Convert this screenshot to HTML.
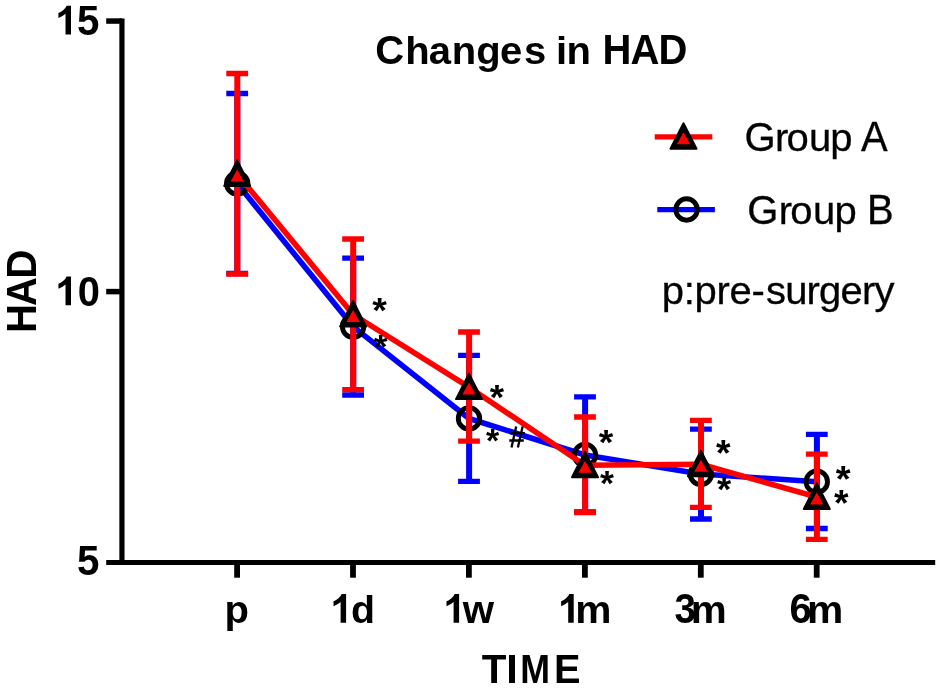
<!DOCTYPE html>
<html><head><meta charset="utf-8"><title>Changes in HAD</title>
<style>
html,body{margin:0;padding:0;background:#fff;}
body{width:945px;height:692px;overflow:hidden;}
svg{display:block;will-change:transform;}
.t{filter:grayscale(1);}
text{font-family:"Liberation Sans",sans-serif;fill:#000;}
</style></head><body>
<svg width="945" height="692" viewBox="0 0 945 692">
<rect width="945" height="692" fill="#fff"/>
<g stroke="#000" stroke-width="5.2" fill="none">
<path d="M121.95 18.5V565.10"/>
<path d="M106.2 562.5H935.2"/>
<path d="M106.2 21.05H121.95" stroke-width="5.5"/>
<path d="M106.2 291.6H121.95" stroke-width="5.5"/>
<path d="M237.1 562.5V577.7" stroke-width="5.8"/>
<path d="M353.0 562.5V577.7" stroke-width="5.8"/>
<path d="M468.9 562.5V577.7" stroke-width="5.8"/>
<path d="M584.9 562.5V577.7" stroke-width="5.8"/>
<path d="M700.8 562.5V577.7" stroke-width="5.8"/>
<path d="M816.7 562.5V577.7" stroke-width="5.8"/>
</g>
<path d="M237.3 93.5V273.5" stroke="#0000ff" stroke-width="6.0" fill="none"/><path d="M226.3 93.5H248.1M226.3 273.5H248.1" stroke="#0000ff" stroke-width="5.3" fill="none"/>
<path d="M353.2 258.2V395.0" stroke="#0000ff" stroke-width="6.0" fill="none"/><path d="M342.2 258.2H364.0M342.2 395.0H364.0" stroke="#0000ff" stroke-width="5.3" fill="none"/>
<path d="M469.1 355.3V481.3" stroke="#0000ff" stroke-width="6.0" fill="none"/><path d="M458.1 355.3H479.9M458.1 481.3H479.9" stroke="#0000ff" stroke-width="5.3" fill="none"/>
<path d="M585.1 396.8V512.0" stroke="#0000ff" stroke-width="6.0" fill="none"/><path d="M574.1 396.8H595.9M574.1 512.0H595.9" stroke="#0000ff" stroke-width="5.3" fill="none"/>
<path d="M701.0 429.1V519.0" stroke="#0000ff" stroke-width="6.0" fill="none"/><path d="M690.0 429.1H711.8M690.0 519.0H711.8" stroke="#0000ff" stroke-width="5.3" fill="none"/>
<path d="M816.9 434.3V528.5" stroke="#0000ff" stroke-width="6.0" fill="none"/><path d="M805.9 434.3H827.7M805.9 528.5H827.7" stroke="#0000ff" stroke-width="5.3" fill="none"/>
<polyline points="237.2,183.5 353.1,326.6 469.0,418.5 585.0,455.0 700.9,474.0 816.8,481.7" stroke="#0000ff" stroke-width="5.6" fill="none" stroke-linejoin="round"/>
<circle cx="237.2" cy="183.5" r="10.7" fill="none" stroke="#000" stroke-width="4.9"/>
<circle cx="353.1" cy="326.6" r="10.7" fill="none" stroke="#000" stroke-width="4.9"/>
<circle cx="469.0" cy="418.5" r="10.7" fill="none" stroke="#000" stroke-width="4.9"/>
<circle cx="585.0" cy="455.0" r="10.7" fill="none" stroke="#000" stroke-width="4.9"/>
<circle cx="700.9" cy="474.0" r="10.7" fill="none" stroke="#000" stroke-width="4.9"/>
<circle cx="816.8" cy="481.7" r="10.7" fill="none" stroke="#000" stroke-width="4.9"/>
<path d="M237.3 73.5V274.0" stroke="#ff0000" stroke-width="6.0" fill="none"/><path d="M226.3 73.5H248.1M226.3 274.0H248.1" stroke="#ff0000" stroke-width="5.3" fill="none"/>
<path d="M353.2 239.0V389.6" stroke="#ff0000" stroke-width="6.0" fill="none"/><path d="M342.2 239.0H364.0M342.2 389.6H364.0" stroke="#ff0000" stroke-width="5.3" fill="none"/>
<path d="M469.1 332.0V441.2" stroke="#ff0000" stroke-width="6.0" fill="none"/><path d="M458.1 332.0H479.9M458.1 441.2H479.9" stroke="#ff0000" stroke-width="5.3" fill="none"/>
<path d="M585.1 417.0V512.5" stroke="#ff0000" stroke-width="6.0" fill="none"/><path d="M574.1 417.0H595.9M574.1 512.5H595.9" stroke="#ff0000" stroke-width="5.3" fill="none"/>
<path d="M701.0 420.3V507.3" stroke="#ff0000" stroke-width="6.0" fill="none"/><path d="M690.0 420.3H711.8M690.0 507.3H711.8" stroke="#ff0000" stroke-width="5.3" fill="none"/>
<path d="M816.9 454.2V539.3" stroke="#ff0000" stroke-width="6.0" fill="none"/><path d="M805.9 454.2H827.7M805.9 539.3H827.7" stroke="#ff0000" stroke-width="5.3" fill="none"/>
<polyline points="237.2,174.0 353.1,314.5 469.0,387.2 585.0,465.3 700.9,464.3 816.8,497.0" stroke="#ff0000" stroke-width="5.6" fill="none" stroke-linejoin="round"/>
<polygon points="237.2,160.4 224.2,185.9 250.2,185.9" fill="#000" stroke="#000" stroke-width="2" stroke-linejoin="round"/><polygon points="237.2,169.4 230.6,181.4 243.8,181.4" fill="#f00"/>
<polygon points="353.1,300.9 340.1,326.4 366.1,326.4" fill="#000" stroke="#000" stroke-width="2" stroke-linejoin="round"/><polygon points="353.1,309.9 346.5,321.9 359.7,321.9" fill="#f00"/>
<polygon points="469.0,373.6 456.0,399.1 482.0,399.1" fill="#000" stroke="#000" stroke-width="2" stroke-linejoin="round"/><polygon points="469.0,382.6 462.4,394.6 475.6,394.6" fill="#f00"/>
<polygon points="585.0,451.7 572.0,477.2 598.0,477.2" fill="#000" stroke="#000" stroke-width="2" stroke-linejoin="round"/><polygon points="585.0,460.7 578.4,472.7 591.6,472.7" fill="#f00"/>
<polygon points="700.9,450.7 687.9,476.2 713.9,476.2" fill="#000" stroke="#000" stroke-width="2" stroke-linejoin="round"/><polygon points="700.9,459.7 694.3,471.7 707.5,471.7" fill="#f00"/>
<polygon points="816.8,483.4 803.8,508.9 829.8,508.9" fill="#000" stroke="#000" stroke-width="2" stroke-linejoin="round"/><polygon points="816.8,492.4 810.2,504.4 823.4,504.4" fill="#f00"/>
<path d="M654.7 136.9H712.3" stroke="#f00" stroke-width="5.3"/>
<polygon points="683.5,123.3 670.5,148.8 696.5,148.8" fill="#000" stroke="#000" stroke-width="2" stroke-linejoin="round"/><polygon points="683.5,132.3 676.9,144.3 690.1,144.3" fill="#f00"/>
<path d="M657.3 209.7H714.9" stroke="#00f" stroke-width="5.3"/>
<circle cx="686.6" cy="209.5" r="10.7" fill="none" stroke="#000" stroke-width="4.9"/>
<g class="t">
<path d="M806 0H525V1059Q371 915 162 846V1101Q272 1137 401 1237.5T578 1472H806Z" transform="translate(55.26,34.50) scale(0.01953,-0.01950)" fill="#000"/>
<text font-weight="bold" font-size="40" transform="translate(77.06,34.50) scale(1.0099,1.0411)">5</text>
<path d="M806 0H525V1059Q371 915 162 846V1101Q272 1137 401 1237.5T578 1472H806Z" transform="translate(55.26,305.20) scale(0.01953,-0.01957)" fill="#000"/>
<text font-weight="bold" font-size="40" transform="translate(77.82,305.50) scale(0.9988,1.0562)">0</text>
<text font-weight="bold" font-size="40" transform="translate(76.96,575.20) scale(1.0099,1.0502)">5</text>
<text font-weight="bold" font-size="40" transform="translate(224.56,622.80) scale(1.0022,0.9900)">p</text>
<path d="M806 0H525V1059Q371 915 162 846V1101Q272 1137 401 1237.5T578 1472H806Z" transform="translate(330.36,622.80) scale(0.01953,-0.01957)" fill="#000"/>
<text font-weight="bold" font-size="40" transform="translate(350.99,622.80) scale(0.9823,0.9900)">d</text>
<path d="M806 0H525V1059Q371 915 162 846V1101Q272 1137 401 1237.5T578 1472H806Z" transform="translate(443.36,622.80) scale(0.01953,-0.01957)" fill="#000"/>
<text font-weight="bold" font-size="40" transform="translate(462.72,622.80) scale(1.0061,0.9850)">w</text>
<path d="M806 0H525V1059Q371 915 162 846V1101Q272 1137 401 1237.5T578 1472H806Z" transform="translate(557.96,622.80) scale(0.01953,-0.01957)" fill="#000"/>
<text font-weight="bold" font-size="40" transform="translate(575.32,622.80) scale(1.0181,0.9850)">m</text>
<text font-weight="bold" font-size="40" transform="translate(674.52,623.10) scale(0.9606,1.0419)">3</text>
<text font-weight="bold" font-size="40" transform="translate(690.83,622.80) scale(1.0115,0.9850)">m</text>
<text font-weight="bold" font-size="40" transform="translate(789.53,623.10) scale(1.0033,1.0419)">6</text>
<text font-weight="bold" font-size="40" transform="translate(806.91,622.80) scale(1.0214,0.9850)">m</text>
<text font-weight="bold" font-size="40" transform="translate(481.65,683.20) scale(1.0104,1.0247)">T</text>
<text font-weight="bold" font-size="40" transform="translate(506.31,683.20) scale(1.0414,1.0247)">I</text>
<text font-weight="bold" font-size="40" transform="translate(520.31,683.20) scale(0.8939,1.0247)">M</text>
<text font-weight="bold" font-size="40" transform="translate(554.04,683.20) scale(0.9937,1.0247)">E</text>
<g transform="translate(35.8,330.3) rotate(-90)">
<text font-weight="bold" font-size="40" transform="translate(-2.67,0.00) scale(0.9993,1.0429)">H</text>
<text font-weight="bold" font-size="40" transform="translate(24.31,0.00) scale(0.9949,1.0429)">A</text>
<text font-weight="bold" font-size="40" transform="translate(51.49,0.00) scale(1.0110,1.0429)">D</text>
</g>
<text font-weight="bold" font-size="40" transform="translate(375.26,63.90) scale(1,1.02)">C</text>
<text font-weight="bold" font-size="40" transform="translate(405.31,63.90) scale(1,0.985)">h</text>
<text font-weight="bold" font-size="40" transform="translate(428.73,63.90) scale(1,0.985)">a</text>
<text font-weight="bold" font-size="40" transform="translate(451.76,63.90) scale(1,0.985)">n</text>
<text font-weight="bold" font-size="40" transform="translate(476.16,63.90) scale(1,0.985)">g</text>
<text font-weight="bold" font-size="40" transform="translate(499.94,63.90) scale(1,0.985)">e</text>
<text font-weight="bold" font-size="40" transform="translate(524.09,63.90) scale(1,0.985)">s</text>
<text font-weight="bold" font-size="40" transform="translate(556.01,63.90) scale(1,0.985)">i</text>
<text font-weight="bold" font-size="40" transform="translate(566.55,63.90) scale(1,0.985)">n</text>
<text font-weight="bold" font-size="40" transform="translate(602.52,63.90) scale(1,1.04)">H</text>
<text font-weight="bold" font-size="40" transform="translate(630.46,63.90) scale(1,1.04)">A</text>
<text font-weight="bold" font-size="40" transform="translate(658.39,63.90) scale(1,1.04)">D</text>
<text stroke="#000" stroke-width="0.3" font-size="40" transform="translate(744.59,150.80) scale(1,1.02)">G</text>
<text stroke="#000" stroke-width="0.3" font-size="40" transform="translate(774.94,150.80) scale(1,0.985)">r</text>
<text stroke="#000" stroke-width="0.3" font-size="40" transform="translate(786.42,150.80) scale(1,0.985)">o</text>
<text stroke="#000" stroke-width="0.3" font-size="40" transform="translate(809.10,150.80) scale(1,0.985)">u</text>
<text stroke="#000" stroke-width="0.3" font-size="40" transform="translate(830.22,150.80) scale(1,0.985)">p</text>
<text stroke="#000" stroke-width="0.3" font-size="40" transform="translate(861.02,150.80) scale(1,1.04)">A</text>
<text stroke="#000" stroke-width="0.3" font-size="40" transform="translate(747.29,223.90) scale(1,1.02)">G</text>
<text stroke="#000" stroke-width="0.3" font-size="40" transform="translate(778.64,223.90) scale(1,0.985)">r</text>
<text stroke="#000" stroke-width="0.3" font-size="40" transform="translate(790.22,223.90) scale(1,0.985)">o</text>
<text stroke="#000" stroke-width="0.3" font-size="40" transform="translate(813.10,223.90) scale(1,0.985)">u</text>
<text stroke="#000" stroke-width="0.3" font-size="40" transform="translate(834.42,223.90) scale(1,0.985)">p</text>
<text stroke="#000" stroke-width="0.3" font-size="40" transform="translate(866.92,223.90) scale(1,1.04)">B</text>
<text stroke="#000" stroke-width="0.3" font-size="40" transform="translate(661.82,303.50) scale(1,0.985)">p</text>
<text stroke="#000" stroke-width="0.3" font-size="40" transform="translate(683.76,303.50) scale(1,0.985)">:</text>
<text stroke="#000" stroke-width="0.3" font-size="40" transform="translate(694.57,303.50) scale(1,0.985)">p</text>
<text stroke="#000" stroke-width="0.3" font-size="40" transform="translate(716.51,303.50) scale(1,0.985)">r</text>
<text stroke="#000" stroke-width="0.3" font-size="40" transform="translate(729.52,303.50) scale(1,0.985)">e</text>
<text stroke="#000" stroke-width="0.3" font-size="40" transform="translate(751.46,303.50) scale(1,0.985)">-</text>
<text stroke="#000" stroke-width="0.3" font-size="40" transform="translate(765.99,303.50) scale(1,0.985)">s</text>
<text stroke="#000" stroke-width="0.3" font-size="40" transform="translate(785.17,303.50) scale(1,0.985)">u</text>
<text stroke="#000" stroke-width="0.3" font-size="40" transform="translate(806.60,303.50) scale(1,0.985)">r</text>
<text stroke="#000" stroke-width="0.3" font-size="40" transform="translate(819.11,303.50) scale(1,0.985)">g</text>
<text stroke="#000" stroke-width="0.3" font-size="40" transform="translate(840.54,303.50) scale(1,0.985)">e</text>
<text stroke="#000" stroke-width="0.3" font-size="40" transform="translate(861.97,303.50) scale(1,0.985)">r</text>
<text stroke="#000" stroke-width="0.3" font-size="40" transform="translate(874.48,303.50) scale(1,0.985)">y</text>
<text font-weight="bold" font-size="36" transform="translate(372.19,322.49) scale(1.0455,0.9929)">*</text>
<text font-weight="bold" font-size="36" transform="translate(373.80,357.83) scale(0.9806,0.9258)">*</text>
<text font-weight="bold" font-size="36" transform="translate(489.69,409.05) scale(1.0239,0.9631)">*</text>
<text font-weight="bold" font-size="36" transform="translate(486.00,452.11) scale(0.9445,0.9332)">*</text>
<text font-weight="bold" font-size="36" transform="translate(598.79,453.79) scale(1.0383,0.9929)">*</text>
<text font-weight="bold" font-size="36" transform="translate(599.90,495.12) scale(0.9950,0.9780)">*</text>
<text font-weight="bold" font-size="36" transform="translate(715.99,465.95) scale(1.0383,1.0153)">*</text>
<text font-weight="bold" font-size="36" transform="translate(717.09,501.37) scale(1.0166,0.9556)">*</text>
<text font-weight="bold" font-size="36" transform="translate(835.69,491.50) scale(1.0599,1.0377)">*</text>
<text font-weight="bold" font-size="36" transform="translate(834.09,516.45) scale(1.0383,1.0153)">*</text>
<path d="M511.5 447.6L516.2 426.4M517.9 447.6L522.6 426.4M510.4 433.2H524.9M509.3 440.5H523.8" stroke="#000" stroke-width="2.3" fill="none"/>
</g>
</svg></body></html>
